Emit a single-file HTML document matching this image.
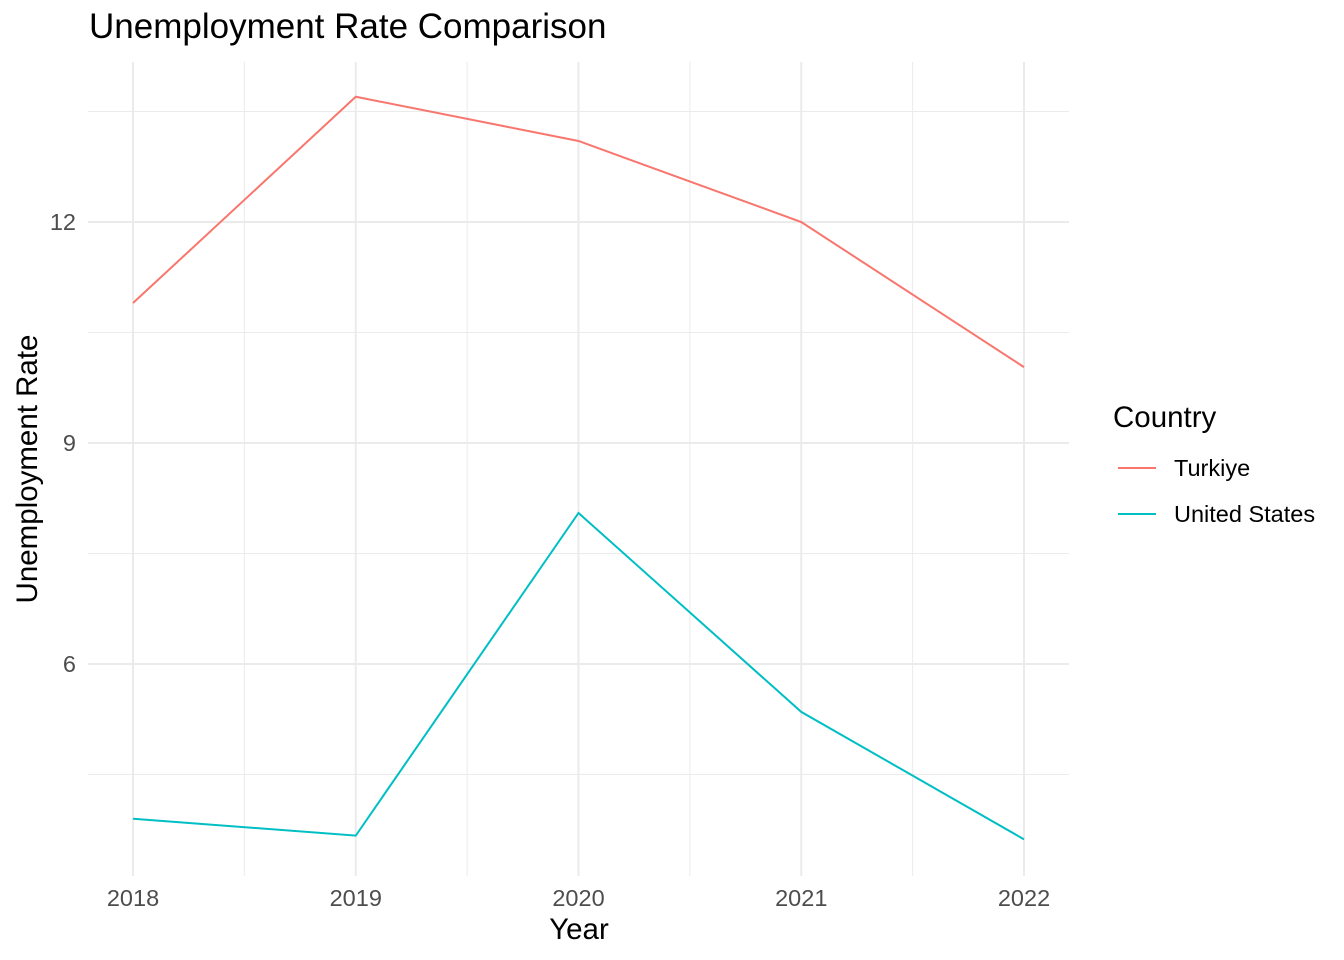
<!DOCTYPE html>
<html><head><meta charset="utf-8">
<style>
html,body{margin:0;padding:0;background:#fff;}
svg{display:block;font-family:"Liberation Sans",Arial,sans-serif;}
</style></head>
<body>
<svg id="chart" width="1344" height="960" xmlns="http://www.w3.org/2000/svg">
<text x="89" y="38" font-size="35" fill="#000">Unemployment Rate Comparison</text>
<g id="grid"></g>
<g id="series"></g>
<g id="ticks"></g>
<text x="579" y="939" font-size="29.5" text-anchor="middle" fill="#000">Year</text>
<text transform="translate(37,469) rotate(-90)" font-size="29.5" text-anchor="middle" fill="#000">Unemployment Rate</text>
<g>
<text x="1113" y="427" font-size="29.5" fill="#000">Country</text>
<g>
<line x1="1118" y1="468" x2="1156" y2="468" stroke="#F8766D" stroke-width="2"/>
<text x="1174" y="476" font-size="23.5" fill="#000">Turkiye</text></g>
<g>
<line x1="1118" y1="514" x2="1156" y2="514" stroke="#00BFC4" stroke-width="2"/>
<text x="1174" y="522" font-size="23.5" fill="#000">United States</text></g>
</g>
</svg>
<script>
const years = [2018, 2019, 2020, 2021, 2022];
const turkiye = [10.9, 13.7, 13.1, 12.0, 10.03];
const unitedStates = [3.9, 3.67, 8.05, 5.35, 3.62];
const yTicks = [6, 9, 12];
const yMinor = [4.5, 7.5, 10.5, 13.5];

const NS = "http://www.w3.org/2000/svg";
const L = 88, R = 1069, T = 62, B = 876;
function xs(v){ return 133 + (v - 2018) * (1024 - 133) / 4; }
function ys(v){ return 222 + (12 - v) * (443 - 222) / 3; }
function mk(tag, attrs, parent){ const e = document.createElementNS(NS, tag); for (const k in attrs) e.setAttribute(k, attrs[k]); parent.appendChild(e); return e; }

const grid = document.getElementById('grid');
yMinor.forEach(v => {
  const l = mk('line', {x1:L, x2:R, y1:ys(v), y2:ys(v), stroke:'#ebebeb', 'stroke-width':1}, grid);
  
  
});
for (let i = 0; i < years.length - 1; i++) {
  const xm = xs((years[i] + years[i+1]) / 2);
  const l = mk('line', {x1:xm, x2:xm, y1:T, y2:B, stroke:'#ebebeb', 'stroke-width':1}, grid);
  
  
}
yTicks.forEach(v => {
  const l = mk('line', {x1:L, x2:R, y1:ys(v), y2:ys(v), stroke:'#ebebeb', 'stroke-width':2}, grid);
  
  
});
years.forEach(v => {
  const l = mk('line', {x1:xs(v), x2:xs(v), y1:T, y2:B, stroke:'#ebebeb', 'stroke-width':2}, grid);
  
  
});

const ticks = document.getElementById('ticks');
yTicks.forEach(v => {
  const t = mk('text', {x:76, y:ys(v)+8, 'font-size':23.5, 'text-anchor':'end', fill:'#4d4d4d'}, ticks);
  t.textContent = v;
  
  
});
years.forEach(v => {
  const t = mk('text', {x:xs(v), y:906, 'font-size':23.5, 'text-anchor':'middle', fill:'#4d4d4d'}, ticks);
  t.textContent = v;
  
  
});

const series = document.getElementById('series');
function line(vals, color, name){
  const d = vals.map((v,i) => (i ? 'L' : 'M') + xs(years[i]) + ',' + ys(v)).join(' ');
  const p = mk('path', {d:d, fill:'none', stroke:color, 'stroke-width':2}, series);
  
  
}
line(turkiye, '#F8766D', 'line-turkiye');
line(unitedStates, '#00BFC4', 'line-united-states');
</script>
</body></html>
